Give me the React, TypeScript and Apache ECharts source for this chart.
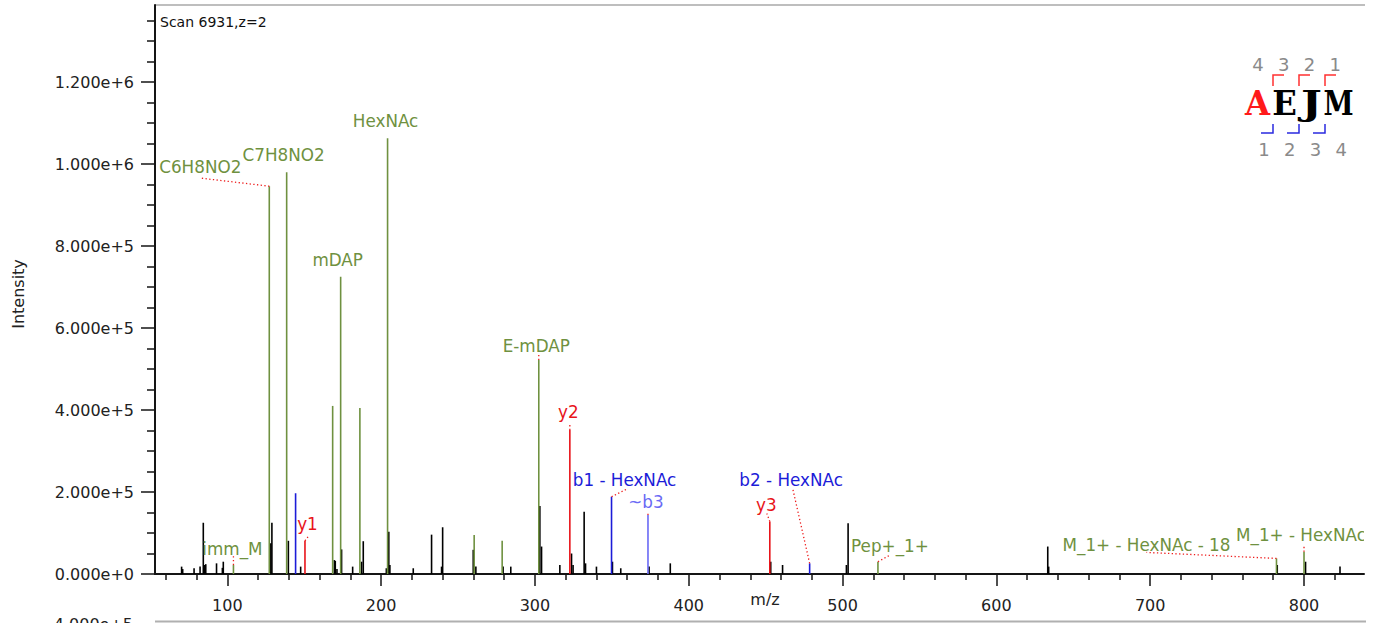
import React, { useEffect, useRef } from "react";
import * as echarts from "echarts";

// Unassigned peaks (drawn in black)
const otherMz = [70.3, 71.0, 78.4, 82.3, 84.4, 85.3, 86.0, 93.0, 96.8, 97.4, 128.3, 129.0, 139.7, 147.7, 169.6, 170.2, 171.3, 174.3, 181.5, 187.3, 188.4, 203.4, 205.0, 205.7, 220.9, 232.8, 239.3, 240.0, 259.9, 261.6, 279.3, 284.3, 303.2, 304.3, 316.2, 323.8, 324.8, 332.0, 332.9, 340.0, 350.4, 355.8, 374.2, 388.0, 453.3, 461.0, 502.5, 503.6, 633.4, 634.0, 782.6, 801.0, 823.4];
const otherIntensity = [18000, 12000, 14000, 18000, 125000, 22000, 24000, 26000, 15000, 30000, 75000, 125000, 81000, 18000, 34000, 32000, 12000, 60000, 18000, 30000, 80000, 14000, 103000, 22000, 14000, 96000, 18000, 114000, 59000, 18000, 18000, 18000, 166000, 67000, 22000, 50000, 22000, 152000, 26000, 18000, 30000, 14000, 18000, 26000, 30000, 22000, 22000, 124000, 67000, 18000, 22000, 30000, 18000];

// Assigned fragment / diagnostic ions
const ionMz = [104.0, 127.3, 138.6, 144.4, 150.5, 168.5, 173.7, 186.2, 204.2, 260.5, 278.7, 302.5, 322.7, 349.8, 373.5, 452.7, 478.6, 523.0, 782.1, 800.0];
const ionIntensity = [22000, 946000, 980000, 197000, 81000, 410000, 725000, 405000, 1063000, 95000, 81000, 522000, 351000, 188500, 144000, 128000, 26000, 30000, 38000, 54000];
const ionKind = ["mod", "mod", "mod", "b", "y", "mod", "mod", "mod", "mod", "mod", "mod", "mod", "y", "b", "bInternal", "y", "b", "mod", "mod", "mod"];
const ionLabel = ["imm_M", "C6H8NO2", "C7H8NO2", "", "y1", "", "mDAP", "", "HexNAc", "", "", "E-mDAP", "y2", "b1 - HexNAc", "~b3", "y3", "b2 - HexNAc", "Pep+_1+", "M_1+ - HexNAc - 18", "M_1+ - HexNAc"];

// Axis ticks
const xMajorTicks = [100, 200, 300, 400, 500, 600, 700, 800];
const xMinorTicks = [60, 80, 120, 140, 160, 180, 220, 240, 260, 280, 320, 340, 360, 380, 420, 440, 460, 480, 520, 540, 560, 580, 620, 640, 660, 680, 720, 740, 760, 780, 820];
const yMajorTicks = [0, 200000, 400000, 600000, 800000, 1000000, 1200000];
const yMinorTicks = [50000, 100000, 150000, 250000, 300000, 350000, 450000, 500000, 550000, 650000, 700000, 750000, 850000, 900000, 950000, 1050000, 1100000, 1150000, 1250000, 1300000, 1350000];

// Peptide sequence and fragment numbering
const sequence = ["A", "E", "J", "M"];
const topNumbers = ["4", "3", "2", "1"];
const bottomNumbers = ["1", "2", "3", "4"];

const kindColor: Record<string, string> = {
  mod: "#6f9140",
  y: "#e8141a",
  b: "#1c1cd8",
  bInternal: "#6a6af5",
};

// Label placement relative to the peak top, in pixels
const labelLayout: Record<string, { dx: number; dy: number; align?: string; lead?: [number, number] }> = {
  "imm_M": { dx: -1, dy: -16, lead: [0, -9] },
  "C6H8NO2": { dx: -69, dy: -19, lead: [-68, -8] },
  "C7H8NO2": { dx: -3, dy: -17 },
  "y1": { dx: 2.5, dy: -17, lead: [3, -4] },
  "mDAP": { dx: -3, dy: -17 },
  "HexNAc": { dx: -2, dy: -17 },
  "E-mDAP": { dx: -2.5, dy: -14, lead: [0, -6] },
  "y2": { dx: -1.5, dy: -18, lead: [0, -5] },
  "b1 - HexNAc": { dx: 13, dy: -17, lead: [16, -8] },
  "~b3": { dx: -2, dy: -13, lead: [0, -1.5] },
  "y3": { dx: -3.5, dy: -17, lead: [-3, -8] },
  "b2 - HexNAc": { dx: -18.5, dy: -83, lead: [-17, -75] },
  "Pep+_1+": { dx: 12, dy: -16, lead: [11, -6] },
  "M_1+ - HexNAc - 18": { dx: -130, dy: -13, lead: [-130, -6] },
  "M_1+ - HexNAc": { dx: -68, dy: -17, align: "left", lead: [0, -5] },
};

// Horizontal squeeze per sequence letter so each fills one fixed-pitch cell
const letterScale: Record<string, number> = { A: 0.95, E: 0.95, J: 1.3, M: 0.8 };

const FONT = '"DejaVu Sans", Verdana, sans-serif';

export default function App() {
  const ref = useRef<HTMLDivElement>(null);

  useEffect(() => {
    if (!ref.current) return;
    const chart = echarts.init(ref.current, undefined, { renderer: "svg" });

    const axisColor = "#151515";
    const labelColor = "#222";

    const graphic: any[] = [
      // frame top edge
      { type: "line", shape: { x1: 155, y1: 5, x2: 1365, y2: 5 }, style: { stroke: "#a8a8a8", lineWidth: 1.5 }, silent: true },
      { type: "text", x: 160, y: 22, style: { text: "Scan 6931,z=2", fill: "#111", font: `14px ${FONT}`, align: "left", verticalAlign: "middle" } },
      { type: "text", x: 18, y: 294, rotation: Math.PI / 2, style: { text: "Intensity", fill: labelColor, font: `16px ${FONT}`, align: "center", verticalAlign: "middle" } },
      { type: "text", x: 765, y: 599, style: { text: "m/z", fill: labelColor, font: `16px ${FONT}`, align: "center", verticalAlign: "middle" } },
      // next panel's top edge
      { type: "line", shape: { x1: 155, y1: 621.5, x2: 1366, y2: 621.5 }, style: { stroke: "#b0b0b0", lineWidth: 2 }, silent: true },
      { type: "text", x: 133, y: 624.5, style: { text: "4.000e+5", fill: labelColor, font: `16px ${FONT}`, align: "right", verticalAlign: "middle" } },
    ];

    sequence.forEach((ch, i) => {
      graphic.push({
        type: "text",
        x: 1257.5 + 27 * i,
        y: 103,
        scaleX: letterScale[ch] ?? 1,
        style: { text: ch, fill: i === 0 ? "#ff1a1a" : "#000", font: `bold 34px "DejaVu Serif", serif`, align: "center", verticalAlign: "middle" },
      });
    });
    topNumbers.forEach((n, i) => {
      graphic.push({ type: "text", x: 1258 + 25.7 * i, y: 64, style: { text: n, fill: "#8a8a8a", font: `18px ${FONT}`, align: "center", verticalAlign: "middle" } });
    });
    bottomNumbers.forEach((n, i) => {
      graphic.push({ type: "text", x: 1264 + 25.7 * i, y: 149, style: { text: n, fill: "#8a8a8a", font: `18px ${FONT}`, align: "center", verticalAlign: "middle" } });
    });
    [1273, 1299, 1325].forEach((bx) => {
      graphic.push({ type: "polyline", shape: { points: [[bx + 11, 75], [bx, 75], [bx, 86]] }, style: { stroke: "#ff3030", fill: "none", lineWidth: 1.5 } });
      graphic.push({ type: "polyline", shape: { points: [[bx, 124], [bx, 133], [bx - 12, 133]] }, style: { stroke: "#2a2ae0", fill: "none", lineWidth: 1.5 } });
    });

    const stick = (color: string) => (params: any, api: any) => {
      const mz = api.value(0);
      const inten = api.value(1);
      const base = api.coord([mz, 0]);
      const top = api.coord([mz, inten]);
      return {
        type: "line",
        shape: { x1: base[0], y1: base[1], x2: top[0], y2: top[1] },
        style: { stroke: color, lineWidth: 1.6 },
      };
    };

    const ionRender = (params: any, api: any) => {
      const i = params.dataIndex;
      const mz = api.value(0);
      const inten = api.value(1);
      const base = api.coord([mz, 0]);
      const top = api.coord([mz, inten]);
      const color = kindColor[ionKind[i]];
      const children: any[] = [
        { type: "line", shape: { x1: base[0], y1: base[1], x2: top[0], y2: top[1] }, style: { stroke: color, lineWidth: 1.6 } },
      ];
      const text = ionLabel[i];
      if (text) {
        const lay = labelLayout[text];
        if (lay.lead) {
          children.push({
            type: "line",
            shape: { x1: top[0], y1: top[1], x2: top[0] + lay.lead[0], y2: top[1] + lay.lead[1] },
            style: { stroke: "#ee1c1c", lineWidth: 1.3, lineDash: [1.3, 2.4] },
          });
        }
        children.push({
          type: "text",
          x: top[0] + lay.dx,
          y: top[1] + lay.dy,
          style: { text, fill: color, font: `16.8px ${FONT}`, align: lay.align || "center", verticalAlign: "middle" },
        });
      }
      return { type: "group", children };
    };

    const baseX = { type: "value", min: 53, max: 839, position: "bottom", offset: 3, splitLine: { show: false } };
    const baseY = { type: "value", min: 0, max: 1388000, position: "left", splitLine: { show: false } };

    chart.setOption({
      animation: false,
      backgroundColor: "#ffffff",
      grid: { left: 155, right: 17, top: 5, bottom: 49, containLabel: false },
      xAxis: [
        {
          ...baseX,
          axisLine: { show: true, lineStyle: { color: axisColor, width: 2 } },
          axisTick: { show: true, customValues: xMajorTicks, length: 12, lineStyle: { color: axisColor, width: 1.5 } },
          axisLabel: { customValues: xMajorTicks, fontSize: 16, fontFamily: FONT, color: labelColor, margin: 20 },
        },
        {
          ...baseX,
          axisLine: { show: false },
          axisTick: { show: true, customValues: xMinorTicks, length: 6, lineStyle: { color: axisColor, width: 1.5 } },
          axisLabel: { show: false },
        },
      ],
      yAxis: [
        {
          ...baseY,
          axisLine: { show: true, lineStyle: { color: axisColor, width: 2 } },
          axisTick: { show: true, customValues: yMajorTicks, length: 14, lineStyle: { color: axisColor, width: 1.5 } },
          axisLabel: {
            customValues: yMajorTicks,
            formatter: (v: number) => Number(v).toExponential(3),
            fontSize: 16,
            fontFamily: FONT,
            color: labelColor,
            margin: 21,
          },
        },
        {
          ...baseY,
          axisLine: { show: false },
          axisTick: { show: true, customValues: yMinorTicks, length: 8, lineStyle: { color: axisColor, width: 1.5 } },
          axisLabel: { show: false },
        },
      ],
      series: [
        {
          type: "custom",
          name: "unassigned",
          xAxisIndex: 0,
          yAxisIndex: 0,
          clip: true,
          renderItem: stick("#000000"),
          encode: { x: 0, y: 1 },
          data: otherMz.map((m, i) => [m, otherIntensity[i]]),
        },
        {
          type: "custom",
          name: "assigned",
          xAxisIndex: 0,
          yAxisIndex: 0,
          clip: true,
          renderItem: ionRender,
          encode: { x: 0, y: 1 },
          data: ionMz.map((m, i) => [m, ionIntensity[i]]),
        },
      ],
      graphic,
    });

    return () => chart.dispose();
  }, []);

  return (
    <div
      ref={ref}
      style={{ position: "fixed", left: 0, top: 0, width: 1381, height: 623, background: "#fff" }}
    />
  );
}
